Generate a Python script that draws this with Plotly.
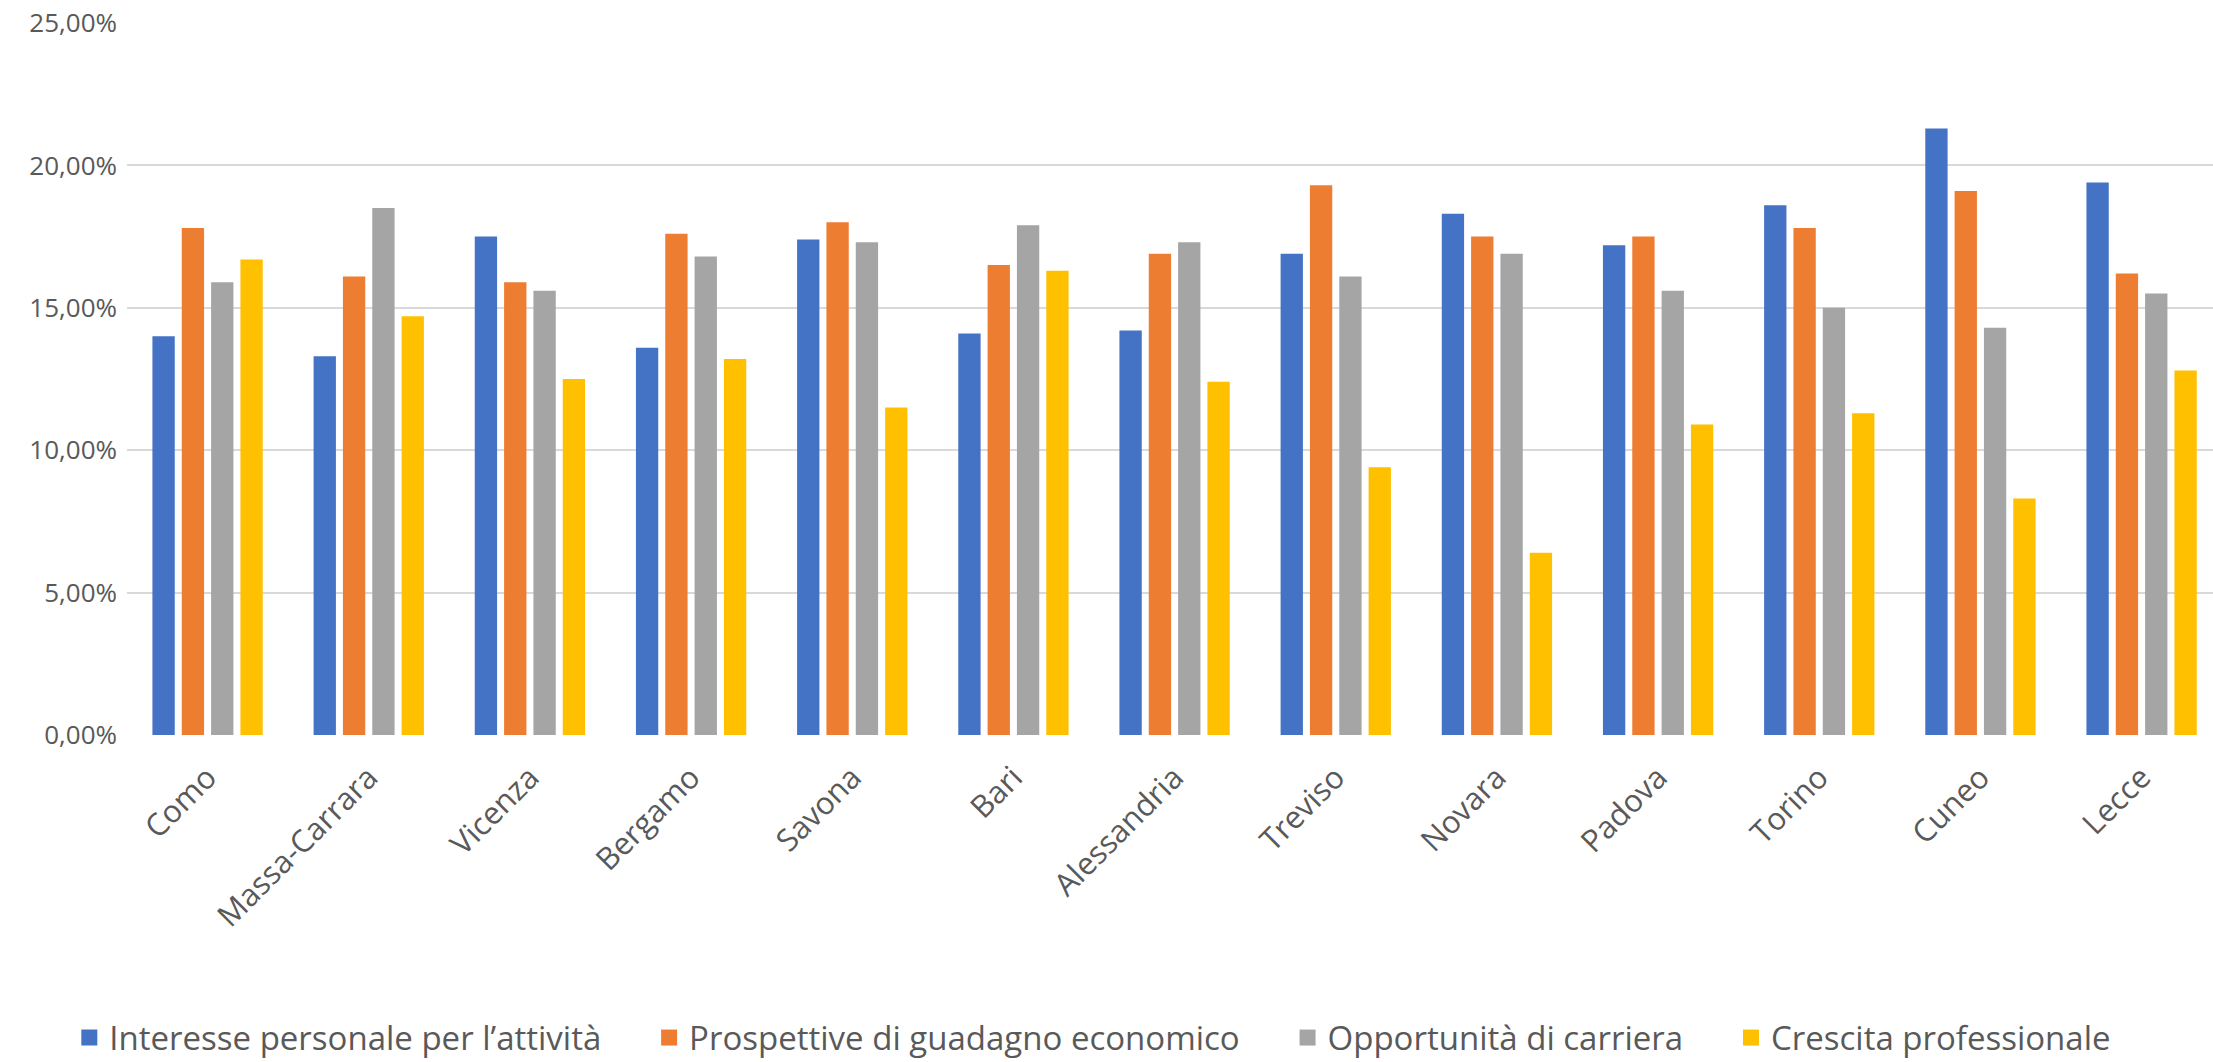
import plotly.graph_objects as go

categories = ["Como", "Massa-Carrara", "Vicenza", "Bergamo", "Savona", "Bari",
              "Alessandria", "Treviso", "Novara", "Padova", "Torino", "Cuneo", "Lecce"]

interesse = [14.0, 13.3, 17.5, 13.6, 17.4, 14.1, 14.2, 16.9, 18.3, 17.2, 18.6, 21.3, 19.4]
prospettive = [17.8, 16.1, 15.9, 17.6, 18.0, 16.5, 16.9, 19.3, 17.5, 17.5, 17.8, 19.1, 16.2]
opportunita = [15.9, 18.5, 15.6, 16.8, 17.3, 17.9, 17.3, 16.1, 16.9, 15.6, 15.0, 14.3, 15.5]
crescita = [16.7, 14.7, 12.5, 13.2, 11.5, 16.3, 12.4, 9.4, 6.4, 10.9, 11.3, 8.3, 12.8]

series_names = ["Interesse personale per l’attività",
                "Prospettive di guadagno economico",
                "Opportunità di carriera",
                "Crescita professionale"]
series_values = [interesse, prospettive, opportunita, crescita]
colors = ["#4472C4", "#ED7D31", "#A5A5A5", "#FFC000"]

y_ticks = [0, 5, 10, 15, 20, 25]
y_ticktext = [f"{v:.2f}".replace(".", ",") + "%" for v in y_ticks]

fig = go.Figure()
x_idx = list(range(len(categories)))
for name, vals, col in zip(series_names, series_values, colors):
    fig.add_trace(go.Bar(x=x_idx, y=vals, name=name, marker=dict(color=col, line=dict(width=0)),
                         legendgroup=name, showlegend=False))
pad = "\u00a0" * 5
for i, (name, col) in enumerate(zip(series_names, colors)):
    label = name + (pad if i < len(series_names) - 1 else "")
    fig.add_trace(go.Scatter(x=[None], y=[None], mode="markers", name=label,
                             marker=dict(symbol="square", size=20, color=col),
                             legendgroup=name, showlegend=True))

fig.update_layout(
    width=2213, height=1062, autosize=False,
    paper_bgcolor="white", plot_bgcolor="white",
    margin=dict(l=127, r=0, t=23, b=327, autoexpand=False),
    barmode="group", bargap=0.272, bargroupgap=0.239,
    font=dict(family="Open Sans", color="#595959"),
    showlegend=True,
    legend=dict(orientation="h", x=0.463, xanchor="center", y=-0.425, yanchor="middle",
                font=dict(size=33, color="#595959"), itemsizing="trace"),
)
fig.update_xaxes(
    tickmode="array", tickvals=x_idx, ticktext=categories,
    range=[-0.5, 12.443], tickangle=-45, tickfont=dict(size=31, color="#595959"),
    showgrid=False, showline=False, zeroline=False, ticks="", ticklabelstandoff=17,
    automargin=False,
)
fig.update_yaxes(
    range=[0, 25], tickmode="array", tickvals=y_ticks, ticktext=y_ticktext,
    tickfont=dict(size=26, color="#595959"), showgrid=True, gridcolor="#D9D9D9",
    gridwidth=2, zeroline=False, showline=False, ticks="", ticklabelstandoff=9,
    automargin=False,
)

fig.write_html("out.html", config={"displayModeBar": False},
               post_script="document.body.style.margin='0';")
